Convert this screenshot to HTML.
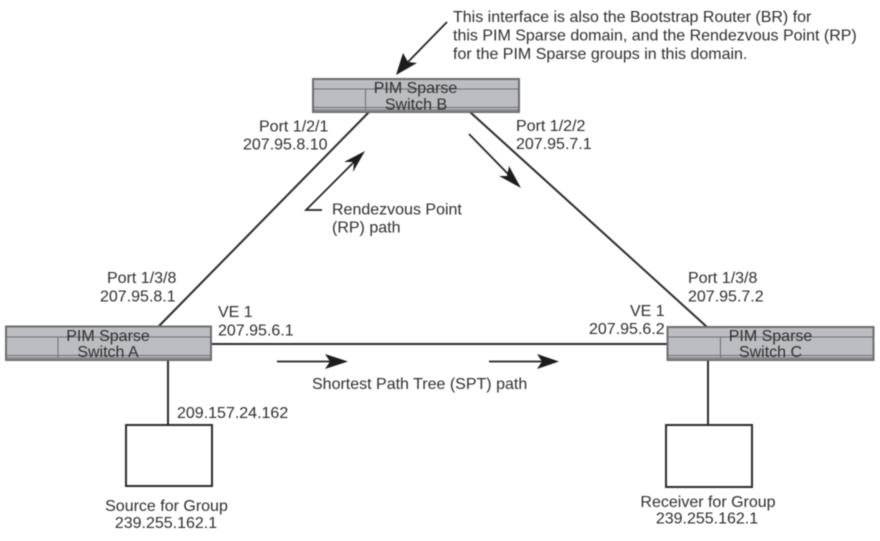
<!DOCTYPE html>
<html><head><meta charset="utf-8"><style>
html,body{margin:0;padding:0;background:#fff;width:880px;height:541px;overflow:hidden}
svg{display:block;filter:blur(.45px)}
text{font-family:"Liberation Sans",sans-serif;font-size:16px;fill:#2e2e2e}
.m{text-anchor:middle}
.l{stroke:#2b2b2b;stroke-width:2;fill:none}
.a{stroke:#222;stroke-width:1.7;fill:none}
.h{fill:#1c1c1c}
.s{fill:#bcbdc0;stroke:#6d6e71;stroke-width:2}
.i{stroke:#6d6e71;stroke-width:1;fill:none}
</style></head><body>
<svg width="880" height="541" viewBox="0 0 880 541" xmlns="http://www.w3.org/2000/svg">
<!-- links -->
<line class="l" x1="369" y1="112" x2="159" y2="326"/>
<line class="l" x1="470" y1="112" x2="707" y2="327"/>
<line class="l" x1="211" y1="344" x2="667" y2="344"/>
<line class="l" x1="168" y1="360" x2="168" y2="425"/>
<line class="l" x1="708" y1="360" x2="708" y2="425"/>
<!-- end boxes -->
<rect x="126" y="425" width="86" height="61" fill="#fff" stroke="#2b2b2b" stroke-width="2"/>
<rect x="666" y="425" width="86" height="62" fill="#fff" stroke="#2b2b2b" stroke-width="2"/>
<!-- switches -->
<rect class="s" x="313" y="79" width="206" height="33"/>
<path class="i" d="M313 89H519M313 107.500H519M313 110H519M365.500 89V110"/>
<rect class="s" x="6" y="326.500" width="205" height="33.500"/>
<path class="i" d="M6 337H211M6 355.500H211M6 358H211M58 337V358"/>
<rect class="s" x="667.500" y="327" width="206" height="33"/>
<path class="i" d="M667 337H873M667 355.500H873M667 358H873M720.500 337V358"/>
<!-- arrows -->
<line class="a" x1="447" y1="22" x2="405" y2="65"/>
<polygon class="h" points="396,75 403,53 408,62 417,63"/>
<polyline class="a" points="322,210 306,210 355,161"/>
<polygon class="h" points="365,151 353,172 354,162 344,162"/>
<line class="a" x1="469" y1="134" x2="510" y2="176"/>
<polygon class="h" points="521,188 499,176 507,176 509,166"/>
<line class="a" x1="277" y1="361.500" x2="335" y2="361.500"/>
<polygon class="h" points="348,361.500 325,354 330,361.500 325,369"/>
<line class="a" x1="489" y1="361.500" x2="545" y2="361.500"/>
<polygon class="h" points="559,361.500 537,354 542,361.500 537,369"/>
<!-- labels -->
<text x="453" y="22">This interface is also the Bootstrap Router (BR) for</text>
<text x="453" y="40.500">this PIM Sparse domain, and the Rendezvous Point (RP)</text>
<text x="453" y="59">for the PIM Sparse groups in this domain.</text>
<text class="m" x="415.500" y="93">PIM Sparse</text>
<text class="m" x="416" y="109.500">Switch B</text>
<text x="259" y="131.500">Port 1/2/1</text>
<text x="243" y="149.500">207.95.8.10</text>
<text x="516" y="131">Port 1/2/2</text>
<text x="516" y="149">207.95.7.1</text>
<text x="332" y="214.500">Rendezvous Point</text>
<text x="332" y="232.500">(RP) path</text>
<text x="107" y="283">Port 1/3/8</text>
<text x="100" y="301.500">207.95.8.1</text>
<text x="218" y="317">VE 1</text>
<text x="218" y="335.500">207.95.6.1</text>
<text x="688" y="283">Port 1/3/8</text>
<text x="688" y="301.500">207.95.7.2</text>
<text x="630" y="316">VE 1</text>
<text x="589" y="334">207.95.6.2</text>
<text class="m" x="108" y="341">PIM Sparse</text>
<text class="m" x="108" y="357">Switch A</text>
<text class="m" x="770.500" y="341">PIM Sparse</text>
<text class="m" x="770.500" y="357">Switch C</text>
<text x="312" y="389">Shortest Path Tree (SPT) path</text>
<text x="177" y="418">209.157.24.162</text>
<text class="m" x="166.500" y="511">Source for Group</text>
<text class="m" x="166" y="528">239.255.162.1</text>
<text class="m" x="708" y="507">Receiver for Group</text>
<text class="m" x="707" y="523.500">239.255.162.1</text>
</svg>
</body></html>
